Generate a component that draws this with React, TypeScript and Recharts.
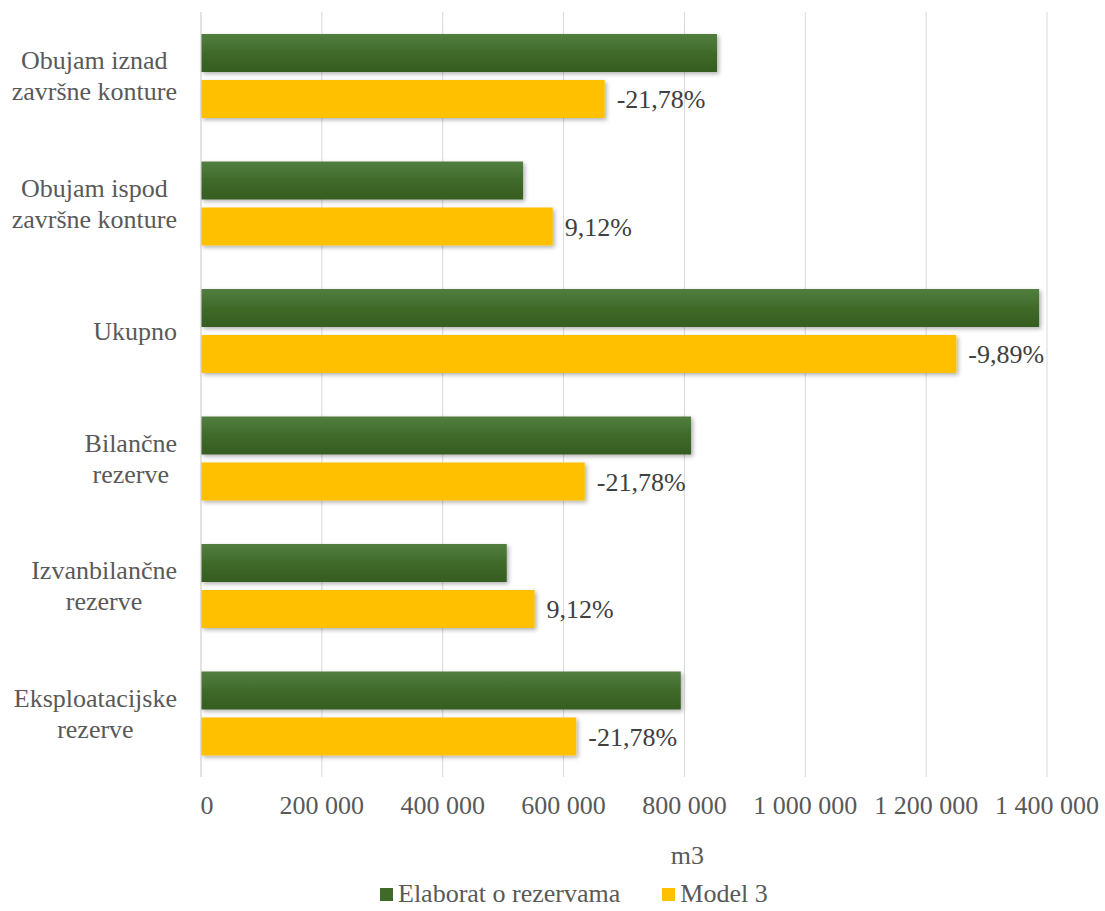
import {
  BarChart,
  Bar,
  Rectangle,
  XAxis,
  YAxis,
  CartesianGrid,
  Legend,
  LabelList,
} from "recharts";

const categories = [
  "Obujam iznad\nzavršne konture",
  "Obujam ispod\nzavršne konture",
  "Ukupno",
  "Bilančne\nrezerve",
  "Izvanbilančne\nrezerve",
  "Eksploatacijske\nrezerve",
];
const elaborat = [854000, 533000, 1387000, 811000, 506000, 794000];
const model3 = [668000, 582000, 1250000, 635000, 552000, 621000];
const changeLabels = ["-21,78%", "9,12%", "-9,89%", "-21,78%", "9,12%", "-21,78%"];
const xTicks = [0, 200000, 400000, 600000, 800000, 1000000, 1200000, 1400000];

const data = categories.map((name, i) => ({
  name,
  elaborat: elaborat[i],
  model3: model3[i],
  change: changeLabels[i],
}));

const FONT = "'Liberation Serif', 'Times New Roman', serif";
const GREEN = "#3f6a2a";
const YELLOW = "#FFC000";
const TEXT = "#595959";

let ctx: CanvasRenderingContext2D | null = null;
const measure = (s: string) => {
  if (!ctx) ctx = document.createElement("canvas").getContext("2d");
  if (!ctx) return s.length * 12;
  ctx.font = `26px ${FONT}`;
  return ctx.measureText(s).width;
};

const fmt = (v: number) => String(v).replace(/\B(?=(\d{3})+(?!\d))/g, " ");

// category labels: block right aligned, lines centred inside it
const CategoryTick = (props: any) => {
  const { x, y, payload } = props;
  const lines = String(payload.value).split("\n");
  const w = Math.max(...lines.map(measure));
  const right = x - 16;
  const cx = right - w / 2;
  const lh = 31;
  const start = y - ((lines.length - 1) * lh) / 2;
  return (
    <g>
      {lines.map((l, i) => (
        <text
          key={i}
          x={cx}
          y={start + i * lh}
          dy="0.35em"
          textAnchor="middle"
          fontSize={26}
          style={{ fontFamily: FONT }}
          fill={TEXT}
        >
          {l}
        </text>
      ))}
    </g>
  );
};

const ValueTick = (props: any) => {
  const { x, y, payload } = props;
  return (
    <text
      x={payload.value === 0 ? x + 6 : x}
      y={y + 20}
      dy="0.35em"
      textAnchor="middle"
      fontSize={26}
      style={{ fontFamily: FONT }}
      fill={TEXT}
    >
      {fmt(payload.value)}
    </text>
  );
};

const AxisTitle = (props: any) => {
  const vb = props.viewBox;
  return (
    <text
      x={vb.x + vb.width * 0.575}
      y={vb.y + 78}
      dy="0.35em"
      textAnchor="middle"
      fontSize={26}
      style={{ fontFamily: FONT }}
      fill={TEXT}
    >
      m3
    </text>
  );
};

const LegendBox = () => (
  <div
    style={{
      display: "flex",
      alignItems: "center",
      height: 34,
      fontFamily: FONT,
      fontSize: 26,
      color: TEXT,
      whiteSpace: "nowrap",
    }}
  >
    <span style={{ width: 13, height: 13, background: GREEN, marginRight: 5 }} />
    <span>Elaborat o rezervama</span>
    <span style={{ width: 13, height: 13, background: YELLOW, marginLeft: 42, marginRight: 5 }} />
    <span>Model 3</span>
  </div>
);

const ShadowBar = (fill: string) => (props: any) => (
  <Rectangle {...props} fill={fill} filter="url(#barShadow)" />
);

const App = () => {
  return (
    <div style={{ position: "absolute", left: 0, top: 0, background: "#fff", fontFamily: FONT }}>
      <BarChart
        width={1105}
        height={911}
        data={data}
        layout="vertical"
        margin={{ top: 12, right: 58, left: 0, bottom: 0 }}
        barCategoryGap={22}
        barGap={8}
      >
        <defs>
          <linearGradient id="greenFill" x1="0" y1="0" x2="0" y2="1">
            <stop offset="0%" stopColor="#527f40" />
            <stop offset="55%" stopColor="#3e6828" />
            <stop offset="100%" stopColor="#365d20" />
          </linearGradient>
          <filter id="barShadow" x="-5%" y="-20%" width="110%" height="160%">
            <feDropShadow dx="2" dy="2" stdDeviation="2" floodColor="#000" floodOpacity="0.3" />
          </filter>
        </defs>
        <CartesianGrid horizontal={false} stroke="#d9d9d9" />
        <XAxis
          type="number"
          domain={[0, 1400000]}
          ticks={xTicks}
          axisLine={false}
          tickLine={false}
          tick={<ValueTick />}
          height={100}
          interval={0}
          label={<AxisTitle />}
        />
        <YAxis
          type="category"
          dataKey="name"
          width={201}
          axisLine={{ stroke: "#d9d9d9" }}
          tickLine={false}
          tick={<CategoryTick />}
          interval={0}
        />
        <Legend
          verticalAlign="bottom"
          content={<LegendBox />}
          wrapperStyle={{ left: 380, width: "auto" }}
        />
        <Bar
          dataKey="elaborat"
          name="Elaborat o rezervama"
          fill="url(#greenFill)"
          barSize={38}
          shape={ShadowBar("url(#greenFill)")}
          isAnimationActive={false}
        />
        <Bar
          dataKey="model3"
          name="Model 3"
          fill={YELLOW}
          barSize={38}
          shape={ShadowBar(YELLOW)}
          isAnimationActive={false}
        >
          <LabelList
            dataKey="change"
            position="right"
            offset={12}
            fontSize={26}
            style={{ fontFamily: FONT }}
            fill="#404040"
          />
        </Bar>
      </BarChart>
    </div>
  );
};

export default App;
